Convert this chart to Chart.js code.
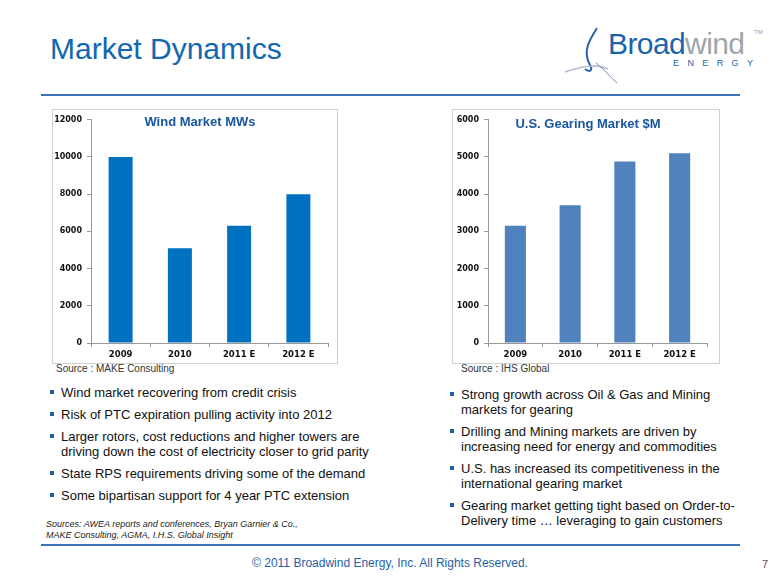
<!DOCTYPE html>
<html>
<head>
<meta charset="utf-8">
<script src="https://cdn.jsdelivr.net/npm/chart.js@4"></script>
<style>
  body { margin: 0; background: #fff; font-family: "Liberation Sans", Arial, sans-serif; }
  #slide { position: relative; width: 780px; height: 585px; overflow: hidden; }
  .abs { position: absolute; }
  .rule { position: absolute; left: 41px; width: 699px; height: 2px; background: #3d72b4; }
  .box { position: absolute; border: 1px solid #d0d0d0; background: #fff; }
  .src { position: absolute; font-size: 10px; color: #333; }
  ul { position: absolute; margin: 0; padding: 0; list-style: none; font-size: 13px; color: #111; line-height: 15px; }
  ul li { position: relative; padding-left: 11px; margin-bottom: 7px; }
  ul li:before { content: ""; position: absolute; left: 0; top: 5px; width: 4px; height: 4px; background: #1f5fa6; }
</style>
</head>
<body>
<div id="slide">
  <div class="abs" style="left:50px;top:32px;font-size:30px;color:#1167b1;">Market Dynamics</div>

  <!-- logo -->
  <svg class="abs" style="left:560px;top:25px" width="70" height="60">
    <path d="M37 3 C30 14, 22 26, 30 40 C 33 45, 30 48, 25 44" stroke="#2a62a8" stroke-width="2" fill="none"/>
    <path d="M5 47 C 20 42, 35 38, 48 44" stroke="#aab8cc" stroke-width="1.5" fill="none"/>
    <path d="M36 38 C 44 44, 50 52, 57 58" stroke="#6d8bb5" stroke-width="1" fill="none"/>
  </svg>
  <div class="abs" style="left:608px;top:27px;font-size:30px;letter-spacing:-0.6px;"><span style="color:#1a63ad">Broad</span><span style="color:#a0a5ab">wind</span></div>
  <div class="abs" style="left:754px;top:29px;font-size:6px;color:#999;">TM</div>
  <div class="abs" style="left:673px;top:58px;font-size:9px;letter-spacing:8.4px;color:#1a63ad;">ENERGY</div>

  <div class="rule" style="top:94px"></div>

  <div class="box" style="left:52px;top:109px;width:284px;height:253px;"></div>
  <div class="box" style="left:452px;top:109px;width:266px;height:253px;"></div>
  <canvas id="windChart" class="abs" style="left:53px;top:110px" width="283" height="252"></canvas>
  <canvas id="gearChart" class="abs" style="left:453px;top:110px" width="265" height="252"></canvas>

  <div class="src" style="left:56px;top:363px;">Source : MAKE Consulting</div>
  <div class="src" style="left:461px;top:363px;">Source : IHS Global</div>

  <ul style="left:50px;top:385px;width:340px;">
    <li>Wind market recovering from credit crisis</li>
    <li>Risk of PTC expiration pulling activity into 2012</li>
    <li>Larger rotors, cost reductions and higher towers are driving down the cost of electricity closer to grid parity</li>
    <li>State RPS requirements driving some of the demand</li>
    <li>Some bipartisan support for 4 year PTC extension</li>
  </ul>
  <div class="abs" style="left:46px;top:519px;font-size:9px;font-style:italic;color:#222;line-height:11px;">Sources: AWEA reports and conferences, Bryan Garnier &amp; Co.,<br>MAKE Consulting, AGMA, I.H.S. Global Insight</div>

  <ul style="left:450px;top:387px;width:290px;">
    <li>Strong growth across Oil &amp; Gas and Mining markets for gearing</li>
    <li>Drilling and Mining markets are driven by increasing need for energy and commodities</li>
    <li>U.S. has increased its competitiveness in the international gearing market</li>
    <li>Gearing market getting tight based on Order-to-Delivery time &hellip; leveraging to gain customers</li>
  </ul>

  <div class="rule" style="top:544px"></div>
  <div class="abs" style="left:0;width:780px;top:556px;text-align:center;font-size:12px;color:#1f5fa6;">&copy; 2011 Broadwind Energy, Inc. All Rights Reserved.</div>
  <div class="abs" style="left:762px;top:558px;font-size:11px;color:#555;">7</div>
</div>

<script>
// data
const years = ['2009', '2010', '2011 E', '2012 E'];
const windMW = [10000, 5100, 6300, 8000];
const gearingM = [3150, 3700, 4880, 5100];

// chart title drawn inside the plot area (like the excel chart)
const innerTitle = {
  id: 'innerTitle',
  afterDraw(chart, args, opts) {
    const ctx = chart.ctx;
    ctx.save();
    ctx.font = 'bold 13px "Liberation Sans", Arial, sans-serif';
    ctx.fillStyle = '#1a56a0';
    ctx.textAlign = 'center';
    ctx.textBaseline = 'middle';
    ctx.fillText(opts.text, opts.x, opts.y);
    ctx.restore();
  }
};

function makeChart(id, data, color, max, step, barPct, pad, titleText, titleX, titleY, yWidth) {
  const ctx = document.getElementById(id).getContext('2d');
  return new Chart(ctx, {
    type: 'bar',
    data: {
      labels: years,
      datasets: [{
        data: data,
        backgroundColor: color,
        borderWidth: 0,
        categoryPercentage: 1,
        barPercentage: barPct
      }]
    },
    options: {
      responsive: false,
      animation: false,
      layout: { padding: pad },
      plugins: {
        legend: { display: false },
        tooltip: { enabled: false },
        innerTitle: { text: titleText, x: titleX, y: titleY }
      },
      scales: {
        x: {
          grid: { drawOnChartArea: false, tickLength: 4, color: '#999', offset: true },
          border: { color: '#999' },
          ticks: { color: '#111', font: { family: 'DejaVu Sans', weight: 'bold', size: 8.5 }, padding: 3 },
          afterFit(scale) { scale.height = 19; }
        },
        y: {
          min: 0,
          max: max,
          grid: { drawOnChartArea: false, tickLength: 4, color: '#999' },
          border: { color: '#999' },
          ticks: {
            stepSize: step,
            color: '#111',
            font: { family: 'DejaVu Sans', weight: 'bold', size: 8 },
            padding: 5,
            callback: v => String(v)
          },
          afterFit(scale) { scale.width = yWidth; }
        }
      }
    },
    plugins: [innerTitle]
  });
}

makeChart('windChart', windMW, '#0070c0', 12000, 2000, 0.405,
  { top: 7, right: 8, bottom: 0, left: 0 }, 'Wind Market MWs', 147, 12, 38);
makeChart('gearChart', gearingM, '#4f81bd', 6000, 1000, 0.385,
  { top: 9, right: 11, bottom: 0, left: 0 }, 'U.S. Gearing Market $M', 135, 14, 35);
</script>
</body>
</html>
